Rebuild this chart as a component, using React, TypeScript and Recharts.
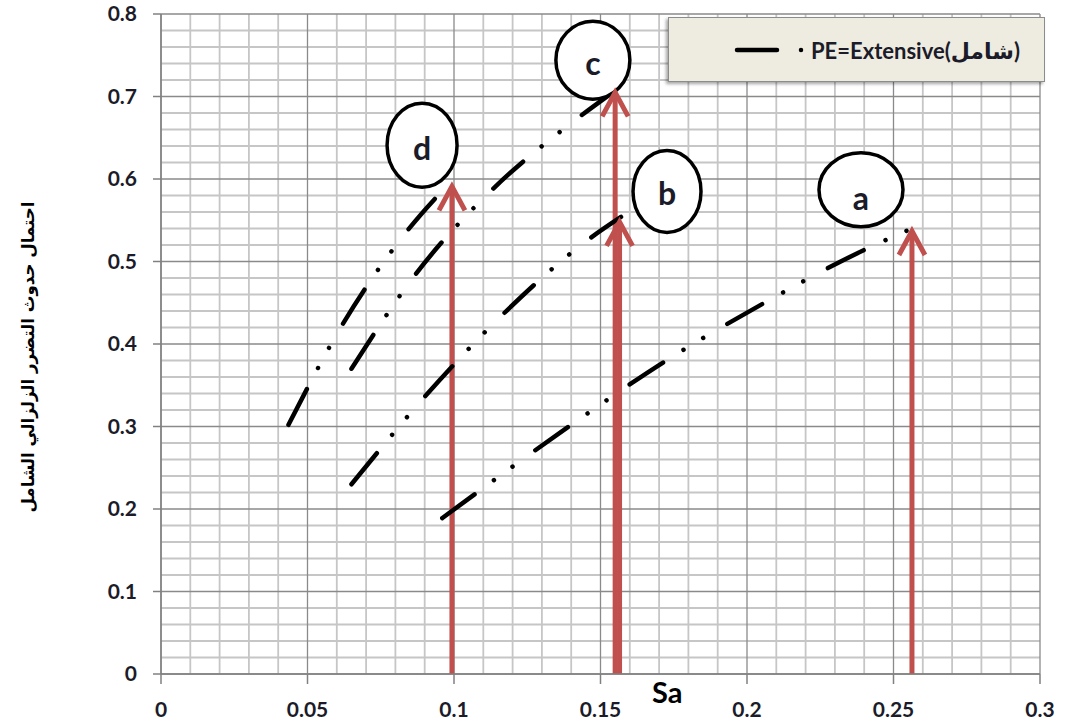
import { Legend, Line, LineChart, ReferenceDot, ReferenceLine, XAxis, YAxis } from "recharts";

// axis ticks
const xTicks = [0, 0.05, 0.1, 0.15, 0.2, 0.25, 0.3];
const yTicks = [0, 0.1, 0.2, 0.3, 0.4, 0.5, 0.6, 0.7, 0.8];

// minor grid
const xMinor = [
  0.01, 0.02, 0.03, 0.04, 0.06, 0.07, 0.08, 0.09, 0.11, 0.12, 0.13, 0.14, 0.16, 0.17,
  0.18, 0.19, 0.21, 0.22, 0.23, 0.24, 0.26, 0.27, 0.28, 0.29,
];
const yMinor = [
  0.02, 0.04, 0.06, 0.08, 0.12, 0.14, 0.16, 0.18, 0.22, 0.24, 0.26, 0.28, 0.32, 0.34,
  0.36, 0.38, 0.42, 0.44, 0.46, 0.48, 0.52, 0.54, 0.56, 0.58, 0.62, 0.64, 0.66, 0.68,
  0.72, 0.74, 0.76, 0.78,
];

// fragility curves, extensive damage
const aSa = [0.096, 0.14, 0.172, 0.205, 0.24, 0.255];
const aPe = [0.189, 0.302, 0.379, 0.448, 0.514, 0.538];
const bSa = [0.065, 0.09, 0.117, 0.146, 0.157];
const bPe = [0.23, 0.336, 0.437, 0.527, 0.554];
const cSa = [0.065, 0.087, 0.113, 0.139, 0.153];
const cPe = [0.37, 0.485, 0.587, 0.665, 0.702];
const dSa = [0.0435, 0.062, 0.084, 0.099];
const dPe = [0.302, 0.424, 0.537, 0.597];

// red arrows from the Sa axis up to each curve
const arrowSa = [0.0993, 0.155, 0.1565, 0.2563];
const arrowPe = [0.591, 0.705, 0.548, 0.537];

// circled curve names
const tagNames = ["a", "b", "c", "d"];
const tagSa = [0.2389, 0.1727, 0.1474, 0.0891];
const tagPe = [0.587, 0.585, 0.744, 0.641];

const legendLabel = "PE=Extensive(شامل)";
const yTitle = "احتمال حدوث التضرر الزلزالي الشامل";

const toPoints = (sa: number[], pe: number[]) => sa.map((s, i) => ({ sa: s, pe: pe[i] }));
const curves = [
  { key: "a", data: toPoints(aSa, aPe) },
  { key: "b", data: toPoints(bSa, bPe) },
  { key: "c", data: toPoints(cSa, cPe) },
  { key: "d", data: toPoints(dSa, dPe) },
];
const arrows = arrowSa.map((s, i) => [
  { sa: s, pe: 0 },
  { sa: s, pe: arrowPe[i] },
]);

const FONT = "Lato, 'DejaVu Sans', sans-serif";
const INK = "#1b1b29";
const RED = "#C0504D";
const DASH = "40 24 0.01 23 0.01 28";
const MINOR = "#c6c6c6";
const MAJOR = "#8a8a8a";

const tagStyle: Record<string, { rx: number; ry: number; base: number }> = {
  a: { rx: 42, ry: 37, base: 20 },
  b: { rx: 34, ry: 41, base: 14 },
  c: { rx: 37, ry: 39, base: 15 },
  d: { rx: 35, ry: 42, base: 15 },
};

function ArrowHead(props: any) {
  const { cx, cy, index } = props;
  if (index !== 1) return <g key={`h-${index}`} />;
  return (
    <path
      key={`h-${index}`}
      d={`M ${cx - 13} ${cy + 24} L ${cx} ${cy} L ${cx + 13} ${cy + 24}`}
      fill="none"
      stroke={RED}
      strokeWidth={5}
      strokeLinejoin="miter"
    />
  );
}

function LegendBox() {
  return (
    <div
      style={{
        position: "relative",
        width: 377,
        height: 65,
        boxSizing: "border-box",
        background: "#EEECE1",
        border: "1px solid #8c8c8c",
        boxShadow: "-2px 2px 3px rgba(0,0,0,0.35)",
      }}
    >
      <svg width={377} height={65} style={{ position: "absolute", left: 0, top: 0 }}>
        <path d="M 68 32 H 134" stroke="#000" strokeWidth={4.5} strokeLinecap="round" strokeDasharray={DASH} />
        <text x={142} y={32} dominantBaseline="central" fontFamily={FONT} fontWeight="bold" fontSize={22} fill={INK}>
          {legendLabel}
        </text>
      </svg>
    </div>
  );
}

export default function App() {
  return (
    <div style={{ position: "absolute", left: 0, top: 0, width: 1075, height: 724, background: "#fff" }}>
      <LineChart width={1075} height={724} margin={{ top: 14, right: 35, bottom: 0, left: 0 }}>
        <XAxis
          type="number"
          dataKey="sa"
          domain={[0, 0.3]}
          ticks={xTicks}
          allowDataOverflow
          height={50}
          tickSize={10}
          tickMargin={18}
          stroke="#808080"
          strokeWidth={1.5}
          tick={{ fill: INK, fontFamily: FONT, fontWeight: "bold", fontSize: 21 }}
          label={({ viewBox }: any) => (
            <text x={viewBox.x + 491} y={viewBox.y + 29} fontFamily={FONT} fontWeight="bold" fontSize={29} fill="#000">
              Sa
            </text>
          )}
        />
        <YAxis
          type="number"
          dataKey="pe"
          domain={[0, 0.8]}
          ticks={yTicks}
          allowDataOverflow
          width={161}
          tickSize={8}
          tickMargin={16}
          stroke="#808080"
          strokeWidth={1.5}
          tick={{ fill: INK, fontFamily: FONT, fontWeight: "bold", fontSize: 21 }}
          label={({ viewBox }: any) => {
            const x = viewBox.x + 28;
            const y = viewBox.y + viewBox.height / 2 + 13;
            return (
              <text
                x={x}
                y={y}
                transform={`rotate(-90, ${x}, ${y})`}
                textAnchor="middle"
                dominantBaseline="central"
                fontFamily="'DejaVu Sans', sans-serif"
                fontWeight="bold"
                fontSize={17}
                fill="#000"
                textLength={311}
                lengthAdjust="spacingAndGlyphs"
              >
                {yTitle}
              </text>
            );
          }}
        />
        {/* graph-paper grid: light minor lines first, darker major lines over them */}
        {xMinor.map((v) => (
          <ReferenceLine key={`xm-${v}`} x={v} stroke={MINOR} strokeWidth={1.8} />
        ))}
        {yMinor.map((v) => (
          <ReferenceLine key={`ym-${v}`} y={v} stroke={MINOR} strokeWidth={1.8} />
        ))}
        {xTicks.map((v) => (
          <ReferenceLine key={`xM-${v}`} x={v} stroke={MAJOR} strokeWidth={1.3} />
        ))}
        {yTicks.map((v) => (
          <ReferenceLine key={`yM-${v}`} y={v} stroke={MAJOR} strokeWidth={1.3} />
        ))}
        <Legend
          layout="horizontal"
          verticalAlign="middle"
          align="center"
          content={() => <LegendBox />}
          wrapperStyle={{ left: 668, top: 17, width: 377, height: 65 }}
        />
        {arrows.map((pts, i) => (
          <Line
            key={`arrow-${i}`}
            data={pts}
            dataKey="pe"
            type="linear"
            stroke={RED}
            strokeWidth={5}
            dot={ArrowHead}
            activeDot={false}
            legendType="none"
            isAnimationActive={false}
          />
        ))}
        {curves.map((c) => (
          <Line
            key={c.key}
            data={c.data}
            dataKey="pe"
            name={legendLabel}
            type="monotone"
            stroke="#000"
            strokeWidth={4.5}
            strokeLinecap="round"
            strokeDasharray={DASH}
            dot={false}
            activeDot={false}
            isAnimationActive={false}
          />
        ))}
        {tagNames.map((t, i) => (
          <ReferenceDot
            key={t}
            x={tagSa[i]}
            y={tagPe[i]}
            ifOverflow="visible"
            shape={(p: any) => (
              <g>
                <ellipse cx={p.cx} cy={p.cy} rx={tagStyle[t].rx} ry={tagStyle[t].ry} fill="#fff" stroke="#000" strokeWidth={3.5} />
                <text x={p.cx} y={p.cy + tagStyle[t].base} textAnchor="middle" fontFamily={FONT} fontWeight="bold" fontSize={32} fill={INK}>
                  {t}
                </text>
              </g>
            )}
          />
        ))}
      </LineChart>
    </div>
  );
}
